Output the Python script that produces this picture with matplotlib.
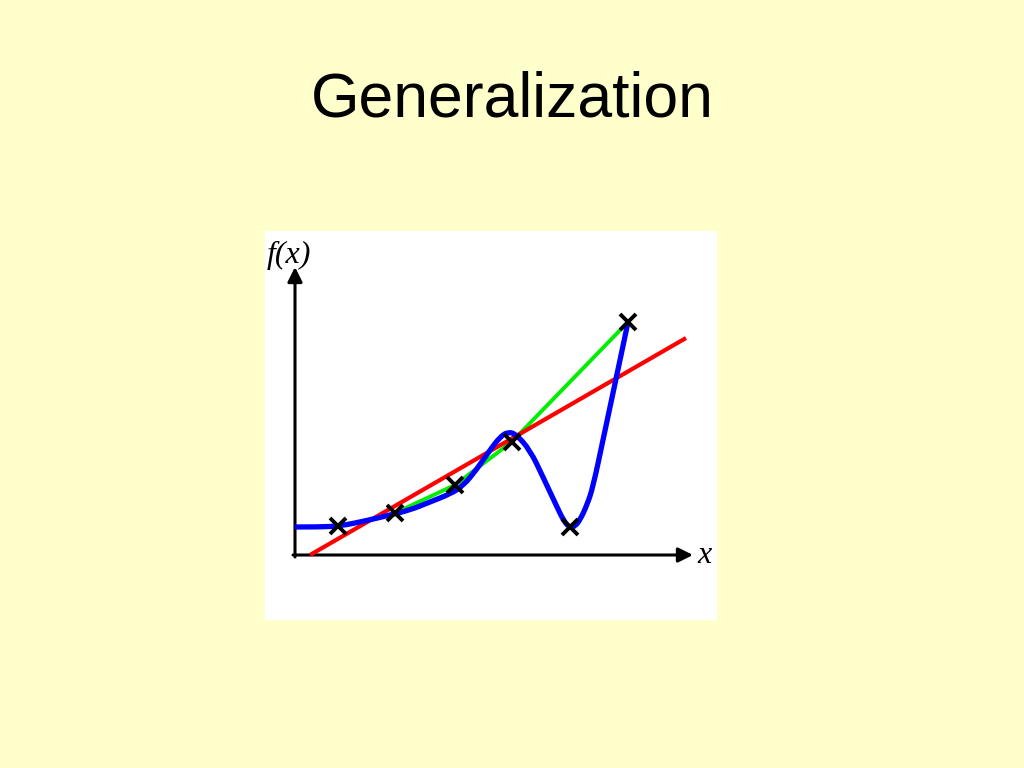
import numpy as np
import matplotlib
matplotlib.use('Agg')
import matplotlib.pyplot as plt
from matplotlib.path import Path
from matplotlib.patches import PathPatch

# observed data points (crosses)
x_pts = [1.07, 2.5, 4.0, 5.42, 6.88, 8.33]
y_pts = [0.73, 1.05, 1.75, 2.83, 0.71, 5.83]

# green fit (passes through all but the outlier)
green_x = [2.5, 4.0, 5.42, 8.33]
green_y = [1.05, 1.75, 2.83, 5.83]

# red linear fit
red_x = [0.375, 9.775]
red_y = [0.0, 5.425]

# blue overfit curve
blue_x = [0.0, 0.625, 1.125, 1.75, 2.375, 2.875, 3.375, 3.875, 4.2, 4.55,
          4.875, 5.125, 5.325, 5.525, 5.875, 6.2, 6.55, 6.725, 6.875, 7.0,
          7.125, 7.3, 7.45, 7.7, 7.95, 8.2, 8.325]
blue_y = [0.7, 0.7, 0.725, 0.85, 1.0, 1.125, 1.325, 1.525, 1.725, 2.15,
          2.625, 2.95, 3.08, 3.02, 2.625, 1.95, 1.2, 0.84, 0.68, 0.72,
          0.875, 1.25, 1.7, 2.875, 4.05, 5.225, 5.825]

fig = plt.figure(figsize=(10.24, 7.68), dpi=100, facecolor='#FFFFCC')
fig.text(0.5, 1 - 100 / 768, 'Generalization', ha='center', va='center',
         fontsize=45, family='Liberation Sans', color='black')

ax = fig.add_axes([265 / 1024, 1 - 620 / 768, 452 / 1024, 389 / 768])
ax.set_facecolor('white')
ax.set_xlim(-0.75, 10.55)
ax.set_ylim(-1.625, 8.1)
for s in ax.spines.values():
    s.set_visible(False)
ax.set_xticks([])
ax.set_yticks([])

# axes with arrows
ax.annotate('', xy=(9.95, 0), xytext=(-0.05, 0),
            arrowprops=dict(arrowstyle='-|>', lw=2.2, color='black',
                            mutation_scale=22, shrinkA=0, shrinkB=0))
ax.annotate('', xy=(0, 7.2), xytext=(0, -0.05),
            arrowprops=dict(arrowstyle='-|>', lw=2.2, color='black',
                            mutation_scale=22, shrinkA=0, shrinkB=0))
ax.text(-0.72, 7.5, 'f(x)', fontsize=23, family='Liberation Serif',
        style='italic', ha='left', va='center')
ax.text(10.05, -0.02, 'x', fontsize=23, family='Liberation Serif',
        style='italic', ha='left', va='center')

ax.plot(green_x, green_y, color='#00EE00', lw=2.8, zorder=2,
        solid_capstyle='butt')
ax.plot(red_x, red_y, color='#FF0000', lw=3, zorder=3, solid_capstyle='butt')

# smooth the blue samples with quadratic bezier segments
pts = list(zip(blue_x, blue_y))
verts = [pts[0]]
codes = [Path.MOVETO]
for i in range(1, len(pts) - 1):
    mid = ((pts[i][0] + pts[i + 1][0]) / 2, (pts[i][1] + pts[i + 1][1]) / 2)
    if i == len(pts) - 2:
        mid = pts[-1]
    verts += [pts[i], mid]
    codes += [Path.CURVE3, Path.CURVE3]
ax.add_patch(PathPatch(Path(verts, codes), facecolor='none',
                       edgecolor='#0000FF', lw=3.8, zorder=4,
                       joinstyle='round', capstyle='butt'))
ax.plot(x_pts, y_pts, 'x', color='black', ms=12, mew=2.8, zorder=5)

fig.savefig('out.png', dpi=100, facecolor=fig.get_facecolor())
